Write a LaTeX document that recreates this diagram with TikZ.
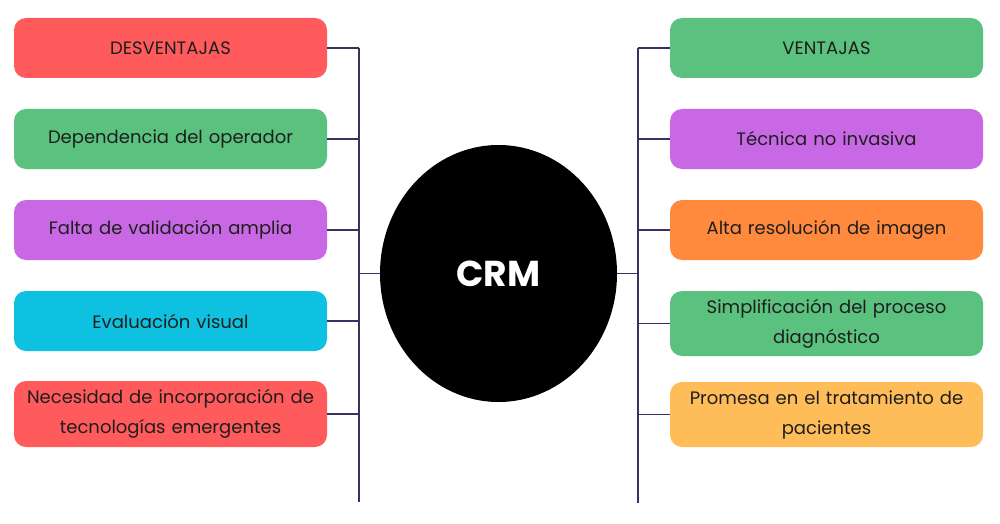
\documentclass[tikz,border=0pt]{standalone}
\usepackage{fontspec}
\setmainfont{Poppins}
\usetikzlibrary{shapes.geometric}
\definecolor{cred}{RGB}{255,90,92}
\definecolor{cgreen}{RGB}{90,193,126}
\definecolor{cpurple}{RGB}{200,104,228}
\definecolor{ccyan}{RGB}{14,193,224}
\definecolor{corange}{RGB}{255,138,62}
\definecolor{cyellow}{RGB}{255,189,90}
\definecolor{cline}{RGB}{58,48,98}
\definecolor{ctext}{RGB}{30,30,30}
\tikzset{
  itembox/.style={rounded corners=12pt, minimum width=313pt, minimum height=60pt,
    text width=305pt, align=center, inner sep=0pt, text=ctext,
    font=\fontsize{18}{30}\selectfont},
  conn/.style={draw=cline, line width=1.9pt},
}
\begin{document}
\begin{tikzpicture}[x=1pt,y=-1pt]
\useasboundingbox (0,0) rectangle (1000,524);
% center
\node[ellipse, fill=black, minimum width=237pt, minimum height=257pt, inner sep=0pt,
  text=white, font=\fontsize{36}{40}\selectfont\bfseries] (crm) at (498.5,273.5) {CRM};
% left
\node[itembox, fill=cred] (l1) at (170.5,48) {DESVENTAJAS};
\node[itembox, fill=cgreen] (l2) at (170.5,139) {Dependencia del operador};
\node[itembox, fill=cpurple] (l3) at (170.5,230) {Falta de validación amplia};
\node[itembox, fill=ccyan] (l4) at (170.5,321) {Evaluación visual};
\node[itembox, fill=cred, minimum height=66pt] (l5) at (170.5,414) {Necesidad de incorporación de\\tecnologías emergentes};
% right
\node[itembox, fill=cgreen] (r1) at (826.5,48) {VENTAJAS};
\node[itembox, fill=cpurple] (r2) at (826.5,139) {Técnica no invasiva};
\node[itembox, fill=corange] (r3) at (826.5,230) {Alta resolución de imagen};
\node[itembox, fill=cgreen, minimum height=65pt] (r4) at (826.5,323.5) {Simplificación del proceso\\diagnóstico};
\node[itembox, fill=cyellow, minimum height=65pt] (r5) at (826.5,414.5) {Promesa en el tratamiento de\\pacientes};
% trunks
\coordinate (ltop) at (359,48);
\coordinate (lbot) at (359,502);
\coordinate (rtop) at (638,48);
\coordinate (rbot) at (638,503);
\draw[conn] (ltop) -- (lbot);
\draw[conn] (rtop) -- (rbot);
\foreach \n in {l1,l2,l3,l4,l5} \draw[conn] (\n.east) -- (\n.east -| ltop);
\foreach \n in {r1,r2,r3,r4,r5} \draw[conn] (\n.west) -- (\n.west -| rtop);
\draw[conn] (crm.west -| ltop) -- (crm.west);
\draw[conn] (crm.east) -- (crm.east -| rtop);
\end{tikzpicture}
\end{document}
